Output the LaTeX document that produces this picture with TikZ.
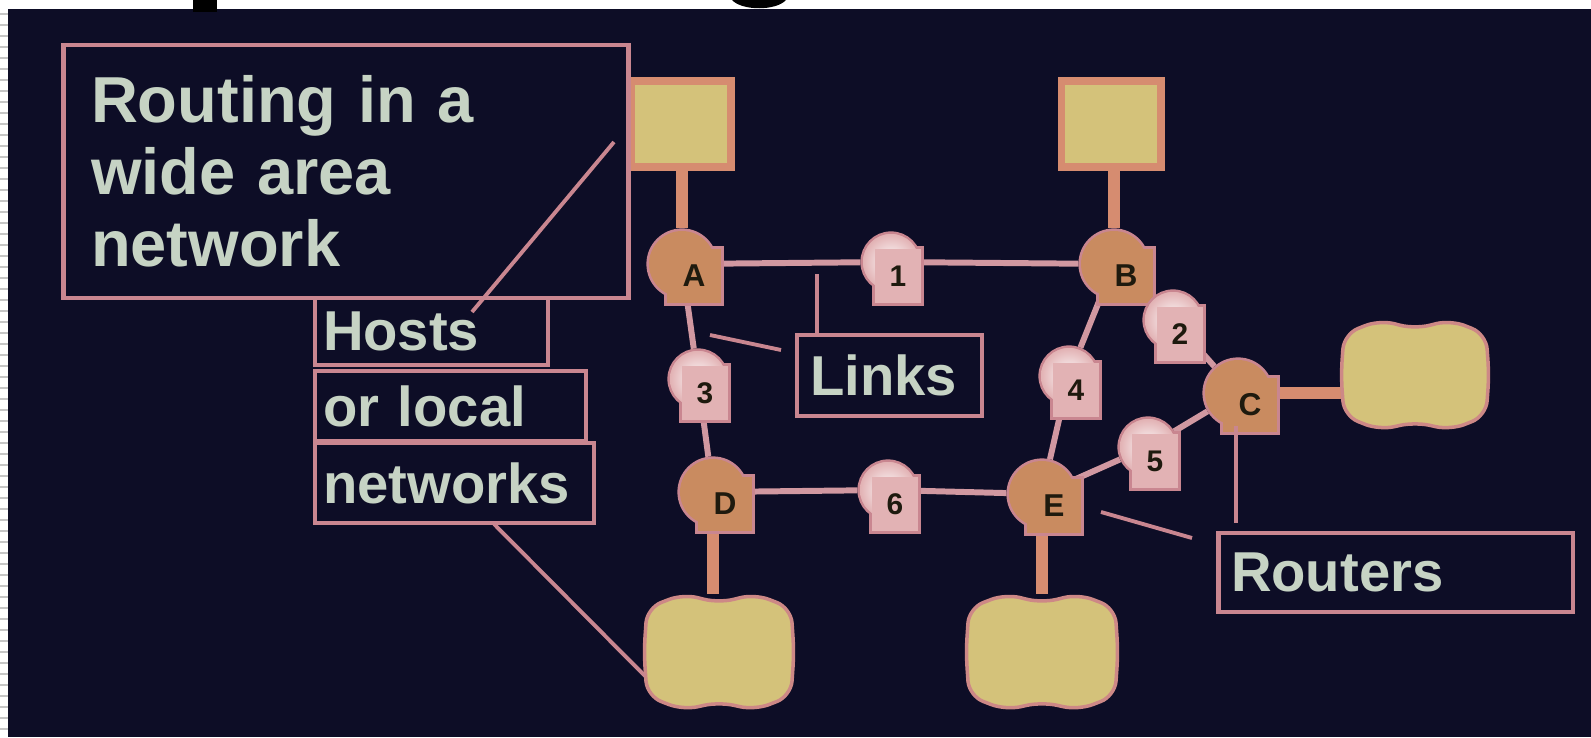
\documentclass[tikz,border=0pt]{standalone}
\usepackage{fontspec}
\setmainfont{Liberation Sans}
\usetikzlibrary{positioning,backgrounds}
\definecolor{bgnavy}{RGB}{13,13,38}
\definecolor{edgepink}{RGB}{201,134,144}
\definecolor{labeltext}{RGB}{198,211,196}
\definecolor{hostfill}{RGB}{212,194,122}
\definecolor{hostedge}{RGB}{214,140,112}
\definecolor{routerfill}{RGB}{201,139,96}
\definecolor{linkfill}{RGB}{226,178,180}
\definecolor{inkdark}{RGB}{30,26,14}
\tikzset{
  labelbox/.style = {rectangle, draw=edgepink, line width=2.8pt, text=labeltext,
                     align=left, inner ysep=0pt, font=\bfseries\fontsize{32}{36}\selectfont},
  pointer/.style  = {draw=edgepink, line width=2.2pt},
  linkwire/.style = {draw=edgepink!85!white, line width=3.4pt},
  hostwire/.style = {draw=hostedge, line width=6.5pt},
  rcirc/.style    = {circle, fill=routerfill, draw=edgepink, line width=3pt,
                     minimum size=1.32cm, inner sep=0pt},
  rsq/.style      = {rectangle, fill=routerfill, draw=edgepink, line width=3pt,
                     minimum size=1.08cm, inner sep=0pt, text=inkdark,
                     font=\bfseries\fontsize{18}{18}\selectfont},
  lcirc/.style    = {circle, fill=linkfill, draw=edgepink, line width=3pt,
                     minimum size=1.12cm, inner sep=0pt},
  lsq/.style      = {rectangle, fill=linkfill, draw=edgepink, line width=3pt,
                     minimum width=0.92cm, minimum height=1.08cm, inner sep=0pt,
                     text=inkdark, font=\bfseries\fontsize{17}{17}\selectfont},
  host/.style     = {rectangle, fill=hostfill, draw=hostedge, line width=4pt,
                     minimum width=2cm, minimum height=1.72cm},
  lan/.style 2 args = {rectangle, inner sep=0pt, minimum width=#1, minimum height=#2},
}
% router: round body with a square tab holding the letter
\newcommand{\routernode}[3]{%
  \node[rcirc] (#1) at (#2) {};
  \node[rsq] (#1box) at ([shift={(12,12)}]#1.center) {};
  \node[rcirc, draw=none] (#1fill) at (#1.center) {};
  \node[rsq, draw=none] (#1tag) at (#1box.center) {#3};
}
% numbered link marker
\newcommand{\linknode}[3]{%
  \node[lcirc] (#1) at (#2) {};
  \node[lsq] (#1box) at ([shift={(7,14)}]#1.center) {};
  \node[lcirc, draw=none, inner color=white, outer color=linkfill] (#1fill) at (#1.center) {};
  \node[lsq, draw=none] (#1tag) at (#1box.center) {#3};
}
% local network blob round a named node: node, half width, half height
\newcommand{\lanblob}[3]{%
  \fill[hostfill, draw=edgepink!70!hostedge, line width=2pt, rounded corners=0.3cm, shift={(#1.center)}]
    (-#2,-#3+14) -- (-#2/2,-#3) -- (0,-#3+9) -- (#2/2,-#3) -- (#2,-#3+14)
    -- (#2+3,0) -- (#2,#3-14) -- (#2/2,#3) -- (0,#3-8) -- (-#2/2,#3)
    -- (-#2,#3-14) -- (-#2-3,0) -- cycle;
}

\begin{document}
\begin{tikzpicture}[x=0.02cm, y=-0.02cm]
  \useasboundingbox (0,0) rectangle (1591,737);
  \begin{scope}[on background layer]
    \fill[bgnavy] (0,0) rectangle (1591,737);
  \end{scope}

  % ---- slide edges ----
  \fill[white] (0,0) rectangle (1591,9);
  \fill[white] (0,0) rectangle (8,737);
  \foreach \yy in {14,25,...,730}
    \draw[gray!45, line width=0.6pt] (0,\yy) -- (8,\yy);
  \fill[black] (193,0) rectangle (217,12);
  \fill[black] (732,0) .. controls (742,11) and (776,11) .. (786,0) -- cycle;

  % ---- hosts and local networks ----
  \node[host] (hostA) at (681,124) {};
  \node[host] (hostB) at (1111,124) {};
  \node[lan={2.84cm}{2.2cm}] (lanC) at (1415,375) {};
  \node[lan={2.88cm}{2.32cm}] (lanD) at (719,652) {};
  \node[lan={2.92cm}{2.32cm}] (lanE) at (1042,652) {};
  \lanblob{lanC}{71}{55}
  \lanblob{lanD}{72}{58}
  \lanblob{lanE}{73}{58}

  % ---- routers ----
  \routernode{A}{682,264}{A}
  \routernode{B}{1114,264}{B}
  \routernode{C}{1238,393}{C}
  \routernode{D}{713,492}{D}
  \routernode{E}{1042,494}{E}

  % ---- links ----
  \linknode{l1}{891,262}{1}
  \linknode{l2}{1173,320}{2}
  \linknode{l3}{698,379}{3}
  \linknode{l4}{1069,376}{4}
  \linknode{l5}{1148,447}{5}
  \linknode{l6}{888,490}{6}

  \begin{scope}[on background layer]
    \draw[linkwire] (A) -- (l1) -- (B);
    \draw[linkwire] (B) -- (l2) -- (C);
    \draw[linkwire] (B) -- (l4) -- (E);
    \draw[linkwire] (A) -- (l3) -- (D);
    \draw[linkwire] (D) -- (l6) -- (E);
    \draw[linkwire] (E) -- (l5) -- (C);
    \draw[hostwire] (A) -- (A |- hostA.south);
    \draw[hostwire] (B) -- (B |- hostB.south);
    \draw[hostwire] (C) -- (C -| lanC.west);
    \draw[hostwire] (D) -- (D |- lanD.north);
    \draw[hostwire] (E) -- (E |- lanE.north);
  \end{scope}

  % ---- captions ----
  \node[labelbox, minimum width=11.32cm, minimum height=5.06cm, text width=10.2cm,
        inner xsep=0.56cm, font=\bfseries\fontsize{37}{41}\selectfont]
    (wan) at (346,171.5) {Routing in a\\wide area\\network};
  \node[labelbox, minimum width=4.66cm, minimum height=1.34cm, text width=4.34cm,
        inner xsep=0.16cm] (hosts) at (431.5,331.5) {Hosts};
  \node[labelbox, minimum width=5.42cm, minimum height=1.4cm, text width=5.1cm,
        inner xsep=0.16cm] (orlocal) at (450.5,406) {or local};
  \node[labelbox, minimum width=5.58cm, minimum height=1.6cm, text width=5.26cm,
        inner xsep=0.16cm] (nets) at (454.5,483) {networks};
  \node[labelbox, minimum width=3.7cm, minimum height=1.62cm, text width=3.18cm,
        inner xsep=0.26cm] (links) at (889.5,375.5) {Links};
  \node[labelbox, minimum width=7.1cm, minimum height=1.58cm, text width=6.58cm,
        inner xsep=0.26cm] (routers) at (1395.5,572.5) {Routers};

  % ---- pointers ----
  \coordinate (hostsFoot) at (472,312);
  \coordinate (hostsTip)  at (614,142);
  \coordinate (netsFoot)  at (494,524);
  \coordinate (netsTip)   at (645,676);
  \coordinate (linksUp)   at (817,274);
  \coordinate (linksFoot) at (781,350);
  \coordinate (linksTip)  at (710,335);
  \coordinate (routersUp) at (1236,426);
  \coordinate (routersFoot) at (1236,523);
  \coordinate (routersBend) at (1192,538);
  \coordinate (routersTip)  at (1101,512);
  \draw[pointer] (hostsFoot) -- (hostsTip);
  \draw[pointer] (netsFoot) -- (netsTip);
  \draw[pointer] (links.north -| linksUp) -- (linksUp);
  \draw[pointer] (linksFoot) -- (linksTip);
  \draw[pointer] (routersFoot) -- (routersUp);
  \draw[pointer] (routersBend) -- (routersTip);
\end{tikzpicture}
\end{document}
